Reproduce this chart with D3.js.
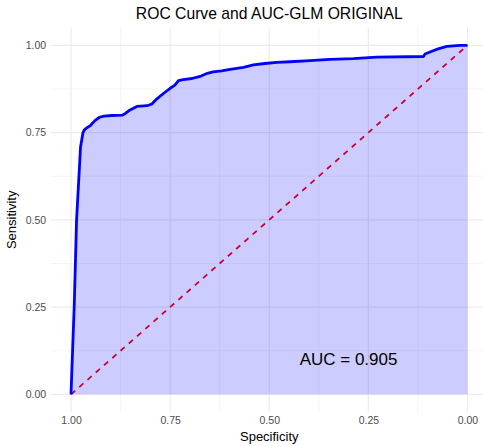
<!DOCTYPE html>
<html>
<head>
<meta charset="utf-8">
<script src="https://cdn.jsdelivr.net/npm/d3@7"></script>
<style>
  body { margin: 0; background: #fff; }
  svg { display: block; font-family: "Liberation Sans", Arial, Helvetica, sans-serif; }
</style>
</head>
<body>
<div id="chart"></div>
<script>
"use strict";

const specificity = [1.000, 0.996, 0.992, 0.986, 0.976, 0.973, 0.970, 0.967, 0.960, 0.951,
  0.946, 0.939, 0.928, 0.917, 0.897, 0.871, 0.863, 0.851, 0.834, 0.808,
  0.796, 0.784, 0.767, 0.750, 0.738, 0.729, 0.717, 0.695, 0.672, 0.656,
  0.642, 0.620, 0.599, 0.565, 0.540, 0.511, 0.481, 0.448, 0.397, 0.347,
  0.288, 0.229, 0.111, 0.107, 0.090, 0.074, 0.052, 0.019, 0.000];
const sensitivity = [0.000, 0.127, 0.250, 0.499, 0.709, 0.729, 0.749, 0.757, 0.764, 0.770,
  0.777, 0.785, 0.794, 0.797, 0.799, 0.800, 0.805, 0.815, 0.825, 0.827,
  0.832, 0.846, 0.862, 0.877, 0.886, 0.899, 0.902, 0.905, 0.912, 0.920,
  0.924, 0.927, 0.931, 0.937, 0.944, 0.948, 0.951, 0.953, 0.956, 0.960,
  0.962, 0.966, 0.968, 0.975, 0.983, 0.990, 0.997, 1.000, 1.000];

const xTicks = [1.00, 0.75, 0.50, 0.25, 0.00];
const yTicks = [0.00, 0.25, 0.50, 0.75, 1.00];
const xMinor = [0.875, 0.625, 0.375, 0.125];
const yMinor = [0.125, 0.375, 0.625, 0.875];

const title = "ROC Curve and AUC-GLM ORIGINAL";
const aucLabel = "AUC = 0.905";
const aucPos = [0.3, 0.1];

const W = 483, H = 446;

function draw() {
  const data = specificity.map((s, i) => ({ spec: s, sens: sensitivity[i] }));

  const x = d3.scaleLinear().domain([1.05, -0.05]).range([51.2, 487.3]);
  const y = d3.scaleLinear().domain([-0.05, 1.05]).range([411.8, 27.9]);

  const svg = d3.select("#chart")
    .append("svg")
    .attr("width", W)
    .attr("height", H);

  const [x0, x1] = x.range();
  const [y0, y1] = y.range();

  // grid
  const grid = svg.append("g");
  grid.selectAll(".vminor").data(xMinor).enter().append("line")
    .attr("x1", d => x(d)).attr("x2", d => x(d))
    .attr("y1", y0).attr("y2", y1)
    .attr("stroke", "#ebebeb").attr("stroke-width", 0.55);
  grid.selectAll(".hminor").data(yMinor).enter().append("line")
    .attr("y1", d => y(d)).attr("y2", d => y(d))
    .attr("x1", x0).attr("x2", x1)
    .attr("stroke", "#ebebeb").attr("stroke-width", 0.55);
  grid.selectAll(".vmajor").data(xTicks).enter().append("line")
    .attr("x1", d => x(d)).attr("x2", d => x(d))
    .attr("y1", y0).attr("y2", y1)
    .attr("stroke", "#ebebeb").attr("stroke-width", 1.1);
  grid.selectAll(".hmajor").data(yTicks).enter().append("line")
    .attr("y1", d => y(d)).attr("y2", d => y(d))
    .attr("x1", x0).attr("x2", x1)
    .attr("stroke", "#ebebeb").attr("stroke-width", 1.1);

  // chance line, under the fill
  svg.append("line")
    .attr("x1", x(1)).attr("y1", y(0))
    .attr("x2", x(0)).attr("y2", y(1))
    .attr("stroke", "#ff0000")
    .attr("stroke-width", 1.8)
    .attr("stroke-dasharray", "5.5,5.5");

  const area = d3.area()
    .x(d => x(d.spec))
    .y0(y(0))
    .y1(d => y(d.sens));

  svg.append("path")
    .datum(data)
    .attr("d", area)
    .attr("fill", "#0000ff")
    .attr("fill-opacity", 0.2);

  const line = d3.line()
    .x(d => x(d.spec))
    .y(d => y(d.sens));

  svg.append("path")
    .datum(data)
    .attr("d", line)
    .attr("fill", "none")
    .attr("stroke", "#0000ff")
    .attr("stroke-width", 2.8)
    .attr("stroke-linejoin", "round");

  svg.append("text")
    .attr("x", x(aucPos[0]))
    .attr("y", y(aucPos[1]))
    .attr("dy", "0.35em")
    .attr("text-anchor", "middle")
    .attr("font-size", "17px")
    .attr("fill", "#000")
    .text(aucLabel);

  // axes (no lines, just labels)
  const xAxis = svg.append("g")
    .attr("transform", `translate(0, ${y0})`)
    .call(d3.axisBottom(x).tickValues(xTicks).tickFormat(d3.format(".2f")).tickSize(0).tickPadding(5));
  const yAxis = svg.append("g")
    .attr("transform", `translate(${x0}, 0)`)
    .call(d3.axisLeft(y).tickValues(yTicks).tickFormat(d3.format(".2f")).tickSize(0).tickPadding(5));

  [xAxis, yAxis].forEach(g => {
    g.select(".domain").remove();
    g.selectAll("text")
      .attr("fill", "#4d4d4d")
      .attr("font-size", "10.5px")
      .attr("font-family", "Liberation Sans, Arial, sans-serif");
  });

  svg.append("text")
    .attr("x", (x0 + x1) / 2)
    .attr("y", 441)
    .attr("text-anchor", "middle")
    .attr("font-size", "13px")
    .text("Specificity");

  svg.append("text")
    .attr("transform", `translate(16, ${(y0 + y1) / 2}) rotate(-90)`)
    .attr("text-anchor", "middle")
    .attr("font-size", "13px")
    .text("Sensitivity");

  svg.append("text")
    .attr("x", (x0 + x1) / 2)
    .attr("y", 18.5)
    .attr("text-anchor", "middle")
    .attr("font-size", "15.7px")
    .text(title);
}

draw();
</script>
</body>
</html>
